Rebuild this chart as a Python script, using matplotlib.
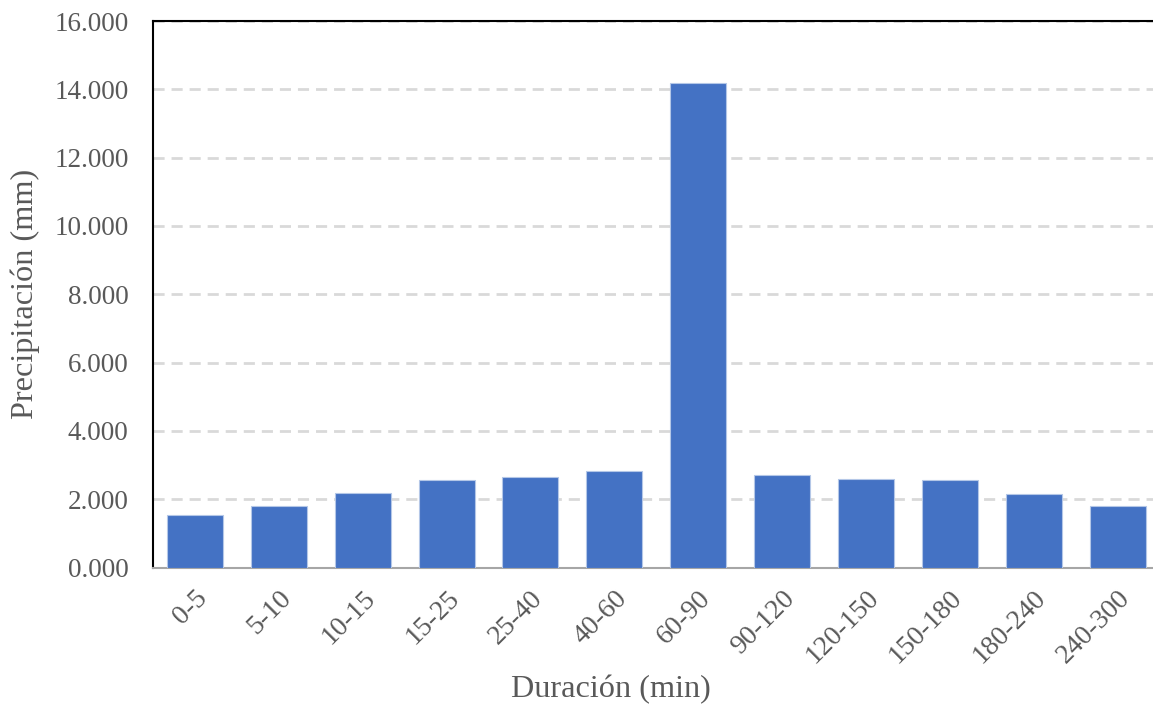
import matplotlib
matplotlib.use("Agg")
import matplotlib.pyplot as plt
from matplotlib.transforms import ScaledTranslation

# Precipitation by duration interval
categories = ["0-5", "5-10", "10-15", "15-25", "25-40", "40-60", "60-90",
              "90-120", "120-150", "150-180", "180-240", "240-300"]
precip_mm = [1.55, 1.80, 2.19, 2.56, 2.66, 2.83, 14.18,
             2.70, 2.60, 2.56, 2.16, 1.79]
y_ticks = [0, 2, 4, 6, 8, 10, 12, 14, 16]
y_tick_labels = ["0.000", "2.000", "4.000", "6.000", "8.000",
                 "10.000", "12.000", "14.000", "16.000"]

plt.rcParams["font.family"] = ["Liberation Serif", "DejaVu Serif"]
text_color = "#595959"

fig = plt.figure(figsize=(11.53, 7.08), dpi=100)
ax = fig.add_axes([0.1327, 0.1983, 0.8729, 0.772])

x = list(range(len(categories)))
ax.bar(x, precip_mm, width=0.668, color="#4472C4",
       edgecolor="#b4c7e7", linewidth=0.8, zorder=3)

ax.set_xlim(-0.5, len(categories) - 0.5)
ax.set_ylim(0, 16)
ax.set_yticks(y_ticks)
ax.set_yticklabels(y_tick_labels)
ax.set_xticks(x)
ax.set_xticklabels(categories, rotation=45, ha="right", rotation_mode="anchor",
                   fontsize=20)

# nudge rotated category labels slightly left
shift = ScaledTranslation(-4 / 72, 0, fig.dpi_scale_trans)
for lbl in ax.get_xticklabels():
    lbl.set_transform(lbl.get_transform() + shift)

ax.yaxis.grid(True, linestyle=(0, (4, 2.5)), color="#d9d9d9", linewidth=2, zorder=0)
ax.xaxis.grid(False)

ax.tick_params(axis="both", length=0, colors=text_color)
ax.tick_params(axis="y", pad=17.5, labelsize=19.5)
ax.tick_params(axis="x", pad=13)

for side in ["left", "top"]:
    ax.spines[side].set_color("black")
    ax.spines[side].set_linewidth(1.5)
ax.spines["bottom"].set_color("#a6a6a6")
ax.spines["bottom"].set_linewidth(1.5)
ax.spines["right"].set_visible(False)

ax.set_ylabel("Precipitación (mm)", fontsize=23.3, color=text_color, labelpad=10)
fig.text(611 / 1153, 1 - 690 / 708, "Duración (min)", fontsize=23.3,
         color=text_color, ha="center", va="center")

fig.savefig("out.png", dpi=100)
